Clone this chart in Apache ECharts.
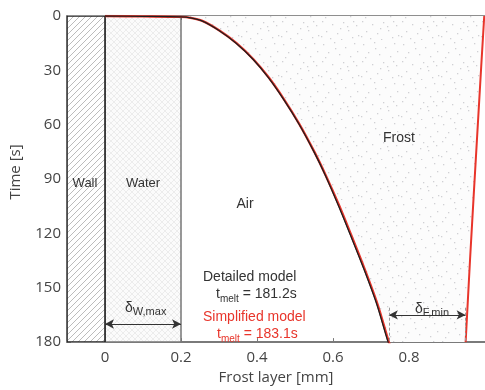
<!DOCTYPE html>
<html><head><meta charset="utf-8">
<script src="https://cdn.jsdelivr.net/npm/echarts@6/dist/echarts.min.js"></script>
<style>html,body{margin:0;padding:0;background:#fff}#c{width:485px;height:390px}</style>
</head><body><div id="c"></div>
<script>
// ---------- data ----------
const xTicks = [0, 0.2, 0.4, 0.6, 0.8];
const xRange = [-0.1, 1.0];
const tRange = [0, 180];
const tInterval = 30;
const wallRange = [-0.1, 0];
const waterRange = [0, 0.2];
// melt front (water/air boundary moving into frost)
const detailedX = [0, 0.1, 0.2, 0.225, 0.255, 0.3, 0.345, 0.39, 0.43, 0.47, 0.51, 0.55, 0.58, 0.615, 0.645, 0.68, 0.715, 0.745, 0.749];
const detailedT = [0, 0.2, 0.5, 1.0, 2.7, 8, 15, 24, 34, 46, 59.5, 75, 88, 105, 120.5, 139, 159, 180, 181.2];
const simplifiedX = [0, 0.1, 0.2, 0.225, 0.256, 0.301, 0.346, 0.391, 0.431, 0.471, 0.511, 0.551, 0.581, 0.617, 0.647, 0.682, 0.717, 0.747, 0.754];
const simplifiedT = [0, 0.2, 0.5, 1.0, 2.7, 8, 15, 24, 34, 46, 59.5, 75, 88, 105, 120.5, 139, 159, 180, 183.1];
// outer frost surface
const outerX = [0.998, 0.990, 0.970, 0.961, 0.949];
const outerT = [0, 28, 100, 133, 180];
// dimension arrows [from, to, time]
const deltaW = [0, 0.2, 170];
const deltaF = [0.747, 0.949, 165];
const dashFromT = 161;
const tMeltDetailed = 181.2;
const tMeltSimplified = 183.1;

// ---------- patterns ----------
function mk(w, h, draw) { const c = document.createElement('canvas'); c.width = w; c.height = h; draw(c.getContext('2d')); return c; }
const hatch = mk(6, 6, g => {
  g.fillStyle = '#fff'; g.fillRect(0, 0, 6, 6);
  g.strokeStyle = '#ababab'; g.lineWidth = 0.8; g.beginPath();
  g.moveTo(-1, 7); g.lineTo(7, -1); g.moveTo(-1, 1); g.lineTo(1, -1); g.moveTo(5, 7); g.lineTo(7, 5); g.stroke();
});
const cross = mk(6, 6, g => {
  g.fillStyle = '#fbfbfb'; g.fillRect(0, 0, 6, 6);
  g.strokeStyle = '#e2e2e2'; g.lineWidth = 0.6; g.beginPath();
  g.moveTo(0, 6); g.lineTo(6, 0); g.moveTo(0, 0); g.lineTo(6, 6); g.stroke();
});
const dotPos = [[3,4],[14,2],[25,7],[34,3],[8,12],[19,14],[30,16],[2,21],[12,24],[23,22],[36,25],[6,31],[17,33],[28,30],[38,35],[10,38],[21,39],[32,37],[15,8],[27,26],[37,11],[5,17],[33,21],[20,28],[1,36]];
const dots = mk(40, 40, g => {
  g.fillStyle = '#fcfcfc'; g.fillRect(0, 0, 40, 40);
  g.fillStyle = '#d0d0d4';
  dotPos.forEach(p => { g.fillRect(p[0], p[1], 1.3, 1.3); });
});
const pat = c => ({ image: c, repeat: 'repeat' });

const zip = (xs, ts) => xs.map((x, i) => [x, ts[i]]);

const chart = echarts.init(document.getElementById('c'), null, { renderer: 'canvas' });

const tickFont = { fontFamily: 'Open Sans', fontSize: 15, color: '#444' };
const lab = { fontFamily: 'Liberation Sans', fontSize: 14, fill: '#333' };
const red = '#e8352b';

function richT(val, color) {
  return {
    text: '{a|t}{b|melt}{a| = ' + val + 's}',
    rich: {
      a: { fontFamily: 'Liberation Sans', fontSize: 14, fill: color, lineHeight: 20, verticalAlign: 'middle' },
      b: { fontFamily: 'Liberation Sans', fontSize: 10, fill: color, lineHeight: 20, verticalAlign: 'bottom' }
    }
  };
}
function richD(sub) {
  return {
    text: '{a|δ}{b|' + sub + '}',
    rich: {
      a: { fontFamily: 'Liberation Sans', fontSize: 14, fill: '#333', lineHeight: 18, verticalAlign: 'middle' },
      b: { fontFamily: 'Liberation Sans', fontSize: 11, fill: '#333', lineHeight: 18, verticalAlign: 'bottom' }
    }
  };
}
const T = (x, y, style) => ({ type: 'text', x: x, y: y, z: 100, silent: true, style: style });

const option = {
  animation: false,
  grid: { left: 67, top: 16, right: -4, bottom: 43, containLabel: false },
  xAxis: [{
    type: 'value', min: xRange[0], max: xRange[1], position: 'bottom',
    axisLine: { show: true, onZero: false, lineStyle: { color: '#7a7a7a', width: 2 } },
    axisTick: { show: true, inside: true, length: 4, customValues: xTicks, lineStyle: { color: '#7a7a7a' } },
    axisLabel: Object.assign({ customValues: xTicks, margin: 8 }, tickFont),
    splitLine: { show: false },
    name: 'Frost layer [mm]', nameLocation: 'middle', nameGap: 27,
    nameTextStyle: { fontFamily: 'Open Sans', fontSize: 15, color: '#444' }
  }, {
    type: 'value', min: xRange[0], max: xRange[1], position: 'top',
    axisLine: { show: true, onZero: false, lineStyle: { color: '#6a6a6a', width: 1.5 } },
    axisTick: { show: true, inside: true, length: 4, customValues: xTicks, lineStyle: { color: '#6a6a6a' } },
    axisLabel: { show: false }, splitLine: { show: false }
  }],
  yAxis: {
    type: 'value', inverse: true, min: tRange[0], max: tRange[1], interval: tInterval,
    axisLine: { show: true, onZero: false, lineStyle: { color: '#333', width: 1.5 } },
    axisTick: { show: true, inside: true, length: 4, lineStyle: { color: '#555' } },
    axisLabel: Object.assign({ margin: 6 }, tickFont),
    splitLine: { show: false }
  },
  series: [
    {
      type: 'custom', silent: true, z: 1, clip: true, data: [0],
      renderItem: (params, api) => {
        const rect = (r, t0, t1) => {
          const a = api.coord([r[0], t0]), b = api.coord([r[1], t1]);
          return { x: Math.min(a[0], b[0]), y: Math.min(a[1], b[1]), width: Math.abs(b[0] - a[0]), height: Math.abs(b[1] - a[1]) };
        };
        const frostPts = [[waterRange[1], tRange[0]]].concat(zip(detailedX, detailedT).filter(p => p[0] >= waterRange[1] && p[1] <= tRange[1]))
          .concat(zip(outerX, outerT).reverse()).map(p => api.coord(p));
        return {
          type: 'group', children: [
            { type: 'polygon', shape: { points: frostPts, smooth: 0 }, style: { fill: pat(dots), stroke: null } },
            { type: 'rect', shape: rect(waterRange, tRange[0], tRange[1]), style: { fill: pat(cross), stroke: '#777', lineWidth: 1.5 } },
            { type: 'rect', shape: rect(wallRange, tRange[0], tRange[1]), style: { fill: pat(hatch), stroke: '#222', lineWidth: 1.6 } }
          ]
        };
      }
    },
    {
      type: 'line', z: 3, data: zip(simplifiedX, simplifiedT), showSymbol: false, smooth: 0.3, clip: true,
      lineStyle: { color: red, width: 2.4 }
    },
    {
      type: 'line', z: 4, data: zip(detailedX, detailedT), showSymbol: false, smooth: 0.3, clip: true,
      lineStyle: { color: '#1e1e1e', width: 1.3 }
    },
    {
      type: 'line', z: 3, data: zip(outerX, outerT), showSymbol: false, clip: true,
      lineStyle: { color: red, width: 2 }
    },
    {
      type: 'line', z: 5, data: [], silent: true,
      markLine: {
        silent: true, animation: false, symbol: ['arrow', 'arrow'], symbolSize: [7, 9],
        label: { show: false }, lineStyle: { color: '#333', type: 'solid', width: 1 },
        data: [
          [{ coord: [deltaW[0], deltaW[2]] }, { coord: [deltaW[1], deltaW[2]] }],
          [{ coord: [deltaF[0], deltaF[2]] }, { coord: [deltaF[1], deltaF[2]] }]
        ]
      }
    },
    {
      type: 'line', z: 2, data: [], silent: true,
      markLine: {
        silent: true, animation: false, symbol: ['none', 'none'],
        label: { show: false }, lineStyle: { color: '#999', type: [3, 2], width: 1 },
        data: [
          [{ coord: [deltaF[0], dashFromT] }, { coord: [deltaF[0], tRange[1]] }],
          [{ coord: [deltaF[1], dashFromT] }, { coord: [deltaF[1], tRange[1]] }]
        ]
      }
    }
  ],
  graphic: [
    { type: 'text', x: 16, y: 172, z: 100, rotation: Math.PI / 2, style: { text: 'Time [s]', fontFamily: 'Open Sans', fontSize: 15, fill: '#444', align: 'center', verticalAlign: 'middle' } },
    T(85, 183, Object.assign({ text: 'Wall', align: 'center', verticalAlign: 'middle' }, lab, { fontSize: 13 })),
    T(143, 183, Object.assign({ text: 'Water', align: 'center', verticalAlign: 'middle' }, lab, { fontSize: 13 })),
    T(245, 204, Object.assign({ text: 'Air', align: 'center', verticalAlign: 'middle' }, lab)),
    T(399, 138, Object.assign({ text: 'Frost', align: 'center', verticalAlign: 'middle' }, lab)),
    T(203, 277, Object.assign({ text: 'Detailed model', align: 'left', verticalAlign: 'middle' }, lab)),
    T(216, 294, Object.assign({ align: 'left', verticalAlign: 'middle' }, richT(tMeltDetailed, '#333'))),
    T(203, 317, Object.assign({ text: 'Simplified model', align: 'left', verticalAlign: 'middle' }, lab, { fill: red })),
    T(217, 334, Object.assign({ align: 'left', verticalAlign: 'middle' }, richT(tMeltSimplified, red))),
    T(125, 308, Object.assign({ align: 'left', verticalAlign: 'middle' }, richD('W,max'))),
    T(415, 309, Object.assign({ align: 'left', verticalAlign: 'middle' }, richD('F,min')))
  ]
};
chart.setOption(option);
</script></body></html>
